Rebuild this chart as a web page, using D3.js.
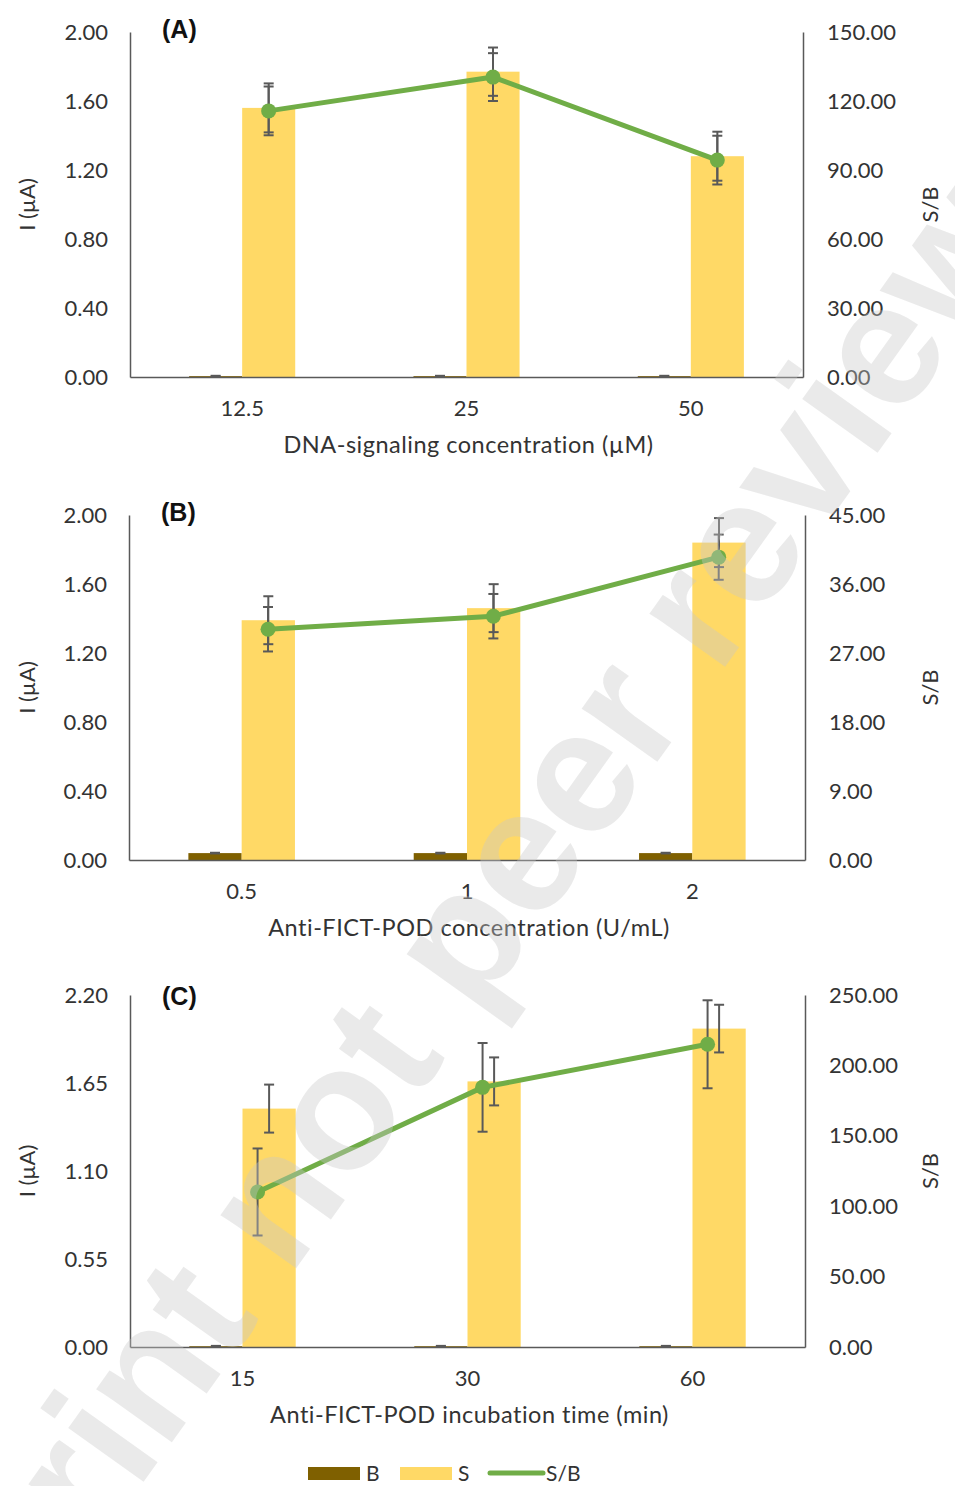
<!DOCTYPE html>
<html><head><meta charset="utf-8">
<script src="https://cdn.jsdelivr.net/npm/d3@7"></script>
<style>body{margin:0;background:#fff}svg{display:block}</style>
</head><body>
<svg id="chart" width="955" height="1486"></svg>
<script>
// ---------- DATA ----------
const panelLabels = ["(A)", "(B)", "(C)"];
const xTitles = ["DNA-signaling concentration (\u00b5M)", "Anti-FICT-POD concentration (U/mL)", "Anti-FICT-POD incubation time (min)"];
const yLeftTitle = "I (\u00b5A)";
const yRightTitle = "S/B";
const seriesNames = ["B", "S", "S/B"];

const categoriesA = ["12.5", "25", "50"];
const bA = [0.005, 0.005, 0.005];
const bErrA = [0.002, 0.002, 0.002];
const sA = [1.56, 1.77, 1.28];
const sErrA = [0.142, 0.14, 0.142];
const sbA = [115.7, 130.4, 94.3];
const sbErrA = [10.6, 10.4, 10.6];
const leftTicksA = [0, 0.4, 0.8, 1.2, 1.6, 2.0];
const rightTicksA = [0, 30, 60, 90, 120, 150];

const categoriesB = ["0.5", "1", "2"];
const bB = [0.04, 0.04, 0.04];
const bErrB = [0.002, 0.002, 0.002];
const sB = [1.39, 1.46, 1.84];
const sErrB = [0.139, 0.139, 0.142];
const sbB = [30.1, 31.8, 39.5];
const sbErrB = [2.9, 2.9, 2.95];
const leftTicksB = [0, 0.4, 0.8, 1.2, 1.6, 2.0];
const rightTicksB = [0, 9, 18, 27, 36, 45];

const categoriesC = ["15", "30", "60"];
const bC = [0.005, 0.005, 0.005];
const bErrC = [0.002, 0.002, 0.002];
const sC = [1.49, 1.66, 1.99];
const sErrC = [0.15, 0.15, 0.149];
const sbC = [110.1, 184.4, 215.0];
const sbErrC = [30.9, 31.5, 31.25];
const leftTicksC = [0, 0.55, 1.1, 1.65, 2.2];
const rightTicksC = [0, 50, 100, 150, 200, 250];

const watermarkText = "Preprint not peer reviewed";

// ---------- LAYOUT / STYLE ----------
const panels = [
  {label: panelLabels[0], cats: categoriesA, b: bA, bErr: bErrA, s: sA, sErr: sErrA, sb: sbA, sbErr: sbErrA,
   lt: leftTicksA, rt: rightTicksA, title: xTitles[0], left: 130, right: 803, top: 32, bottom: 377, lineOff: 0.118, labelY: 38},
  {label: panelLabels[1], cats: categoriesB, b: bB, bErr: bErrB, s: sB, sErr: sErrB, sb: sbB, sbErr: sbErrB,
   lt: leftTicksB, rt: rightTicksB, title: xTitles[1], left: 129, right: 805, top: 515, bottom: 860, lineOff: 0.117, labelY: 521},
  {label: panelLabels[2], cats: categoriesC, b: bC, bErr: bErrC, s: sC, sErr: sErrC, sb: sbC, sbErr: sbErrC,
   lt: leftTicksC, rt: rightTicksC, title: xTitles[2], left: 130, right: 805, top: 995, bottom: 1347, lineOff: 0.067, labelY: 1005}
];
const colB = "#7f6000", colS = "#ffd966", colLine = "#70ad47", colErr = "#595959", colAxis = "#595959", colText = "#333333";
const font = "Lato, 'Open Sans', sans-serif";

const svg = d3.select("#chart");

panels.forEach(p => {
  const g = svg.append("g");
  const x = d3.scaleBand().domain(p.cats).range([p.left, p.right]).padding(0);
  const yL = d3.scaleLinear().domain([p.lt[0], p.lt[p.lt.length - 1]]).range([p.bottom, p.top]);
  const yR = d3.scaleLinear().domain([p.rt[0], p.rt[p.rt.length - 1]]).range([p.bottom, p.top]);
  const gw = x.bandwidth() * 0.473;
  const inner = d3.scaleBand().domain(["B", "S"]).range([-gw / 2, gw / 2]).padding(0);
  const cx = c => x(c) + x.bandwidth() / 2;

  const rows = p.cats.map((c, i) => ({c, b: p.b[i], be: p.bErr[i], s: p.s[i], se: p.sErr[i], sb: p.sb[i], sbe: p.sbErr[i]}));
  g.selectAll(".barB").data(rows).join("rect")
    .attr("x", d => cx(d.c) + inner("B")).attr("width", inner.bandwidth())
    .attr("y", d => yL(d.b)).attr("height", d => yL(0) - yL(d.b)).attr("fill", colB);
  g.selectAll(".barS").data(rows).join("rect")
    .attr("x", d => cx(d.c) + inner("S")).attr("width", inner.bandwidth())
    .attr("y", d => yL(d.s)).attr("height", d => yL(0) - yL(d.s)).attr("fill", colS);

  const axL = d3.axisLeft(yL).tickValues(p.lt).tickFormat(d3.format(".2f")).tickSize(0).tickPadding(22);
  const axR = d3.axisRight(yR).tickValues(p.rt).tickFormat(d3.format(".2f")).tickSize(0).tickPadding(24);
  const axB = d3.axisBottom(x).tickSize(0).tickPadding(23);
  [[axL, `translate(${p.left},0)`], [axR, `translate(${p.right},0)`], [axB, `translate(0,${p.bottom})`]].forEach(([ax, tr]) => {
    const a = g.append("g").attr("transform", tr).call(ax);
    a.select(".domain").attr("stroke", colAxis).attr("stroke-width", 1.5);
    a.selectAll("text").attr("fill", colText).style("font-family", font).style("font-size", "22px");
  });

  const cap = 5;
  function errBar(xp, v, e, y) {
    const e1 = y(v + e), e2 = y(Math.max(0, v - e));
    g.append("line").attr("x1", xp).attr("x2", xp).attr("y1", e1).attr("y2", e2).attr("stroke", colErr).attr("stroke-width", 2);
    [e1, e2].forEach(yy => g.append("line").attr("x1", xp - cap).attr("x2", xp + cap).attr("y1", yy).attr("y2", yy).attr("stroke", colErr).attr("stroke-width", 2));
  }
  rows.forEach(d => {
    errBar(cx(d.c) + inner("B") + inner.bandwidth() / 2, d.b, d.be, yL);
    errBar(cx(d.c) + inner("S") + inner.bandwidth() / 2, d.s, d.se, yL);
  });

  const lx = d => cx(d.c) + x.bandwidth() * p.lineOff;
  g.append("path").datum(rows)
    .attr("d", d3.line().x(lx).y(d => yR(d.sb)))
    .attr("fill", "none").attr("stroke", colLine).attr("stroke-width", 5).attr("stroke-linejoin", "round");
  rows.forEach(d => errBar(lx(d), d.sb, d.sbe, yR));
  g.selectAll(".pt").data(rows).join("circle")
    .attr("cx", lx).attr("cy", d => yR(d.sb)).attr("r", 7.5).attr("fill", colLine);

  g.append("text").attr("x", (p.left + p.right) / 2 + 2).attr("y", p.bottom + 76)
    .attr("text-anchor", "middle").attr("fill", colText).style("font-family", font).style("font-size", "23.5px")
    .style("letter-spacing", "0.5px").text(p.title);
  const my = (p.top + p.bottom) / 2;
  g.append("text").attr("transform", `translate(35,${my}) rotate(-90)`)
    .attr("text-anchor", "middle").attr("fill", colText).style("font-family", font).style("font-size", "22px").text(yLeftTitle);
  g.append("text").attr("transform", `translate(938,${my}) rotate(-90)`)
    .attr("text-anchor", "middle").attr("fill", colText).style("font-family", font).style("font-size", "22px").text(yRightTitle);
  g.append("text").attr("x", p.left + 32).attr("y", p.labelY)
    .attr("fill", "#111").style("font-family", "'Liberation Sans', Arial, sans-serif").style("font-weight", "bold").style("font-size", "25px").text(p.label);
});

// legend
const lg = svg.append("g").attr("transform", "translate(0,1473)");
const legendItems = [
  {name: seriesNames[0], type: "rect", color: colB, x: 308},
  {name: seriesNames[1], type: "rect", color: colS, x: 400},
  {name: seriesNames[2], type: "line", color: colLine, x: 488}
];
legendItems.forEach(it => {
  if (it.type === "rect") lg.append("rect").attr("x", it.x).attr("y", -6).attr("width", 52).attr("height", 13).attr("fill", it.color);
  else lg.append("line").attr("x1", it.x + 2).attr("x2", it.x + 55).attr("y1", 0).attr("y2", 0).attr("stroke", it.color).attr("stroke-width", 5).attr("stroke-linecap", "round");
  lg.append("text").attr("x", it.x + 58).attr("y", 8).attr("fill", colText)
    .style("font-family", font).style("font-size", "21px").text(it.name);
});

// watermark
svg.append("text").attr("transform", "translate(475,939) rotate(-54.5)")
  .attr("text-anchor", "middle").attr("dy", "0.26em")
  .attr("fill", "#c8c8c8").attr("fill-opacity", 0.38)
  .style("font-family", "'Liberation Sans', Arial, sans-serif").style("font-weight", "bold").style("font-size", "175px")
  .text(watermarkText);
</script>
</body></html>
